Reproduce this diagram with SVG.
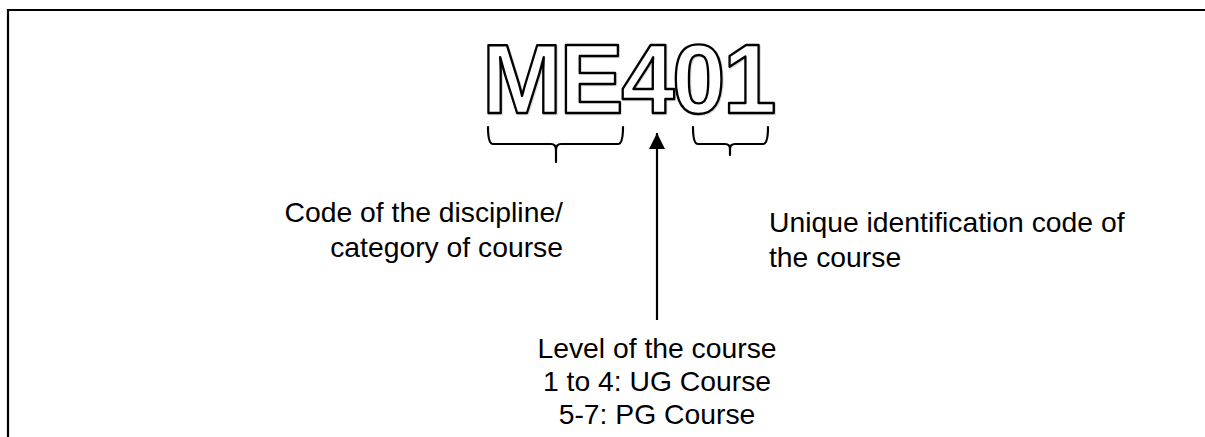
<svg xmlns="http://www.w3.org/2000/svg" width="1205" height="437" viewBox="0 0 1205 437">
<style>
.lbl{font-family:"Liberation Sans",Arial,sans-serif;font-size:28.3px;fill:#000}
.brace{fill:none;stroke:#000;stroke-width:2.2;stroke-linejoin:round;stroke-linecap:round}
.code{font-family:"Liberation Sans",Arial,sans-serif;font-weight:bold;font-size:98px;letter-spacing:-2.5px;fill:#fff;stroke:#000;stroke-width:2.4;stroke-linejoin:round}
.shadow{font-family:"Liberation Sans",Arial,sans-serif;font-weight:bold;font-size:98px;letter-spacing:-2.5px;fill:none;stroke:#999;stroke-width:2.5;opacity:0.35}
</style>
<defs>
<marker id="ah" markerWidth="16" markerHeight="16" refX="16" refY="8" orient="auto" markerUnits="userSpaceOnUse">
<path d="M0,0 L16,8 L0,16 Z" fill="#000"/>
</marker>
</defs>
<rect width="1205" height="437" fill="#fff"/>
<g id="frame">
<path d="M8,437 L8,10 L1205,10" fill="none" stroke="#000" stroke-width="2.2"/>
</g>
<g id="code" transform="translate(482,113) scale(0.98,1)">
<text class="shadow" x="1" y="1">ME401</text>
<text class="code" x="0" y="0">ME401</text>
</g>
<g id="connectors">
<path class="brace" d="M488,127 Q488,144 493,144 L551,144 Q556,144 556,150 L556,162 M556,150 Q556,144 561,144 L618,144 Q623,144 623,127"/>
<path class="brace" d="M693,127 Q693,144 698,144 L725,144 Q730,144 730,149 L730,155 M730,149 Q730,144 735,144 L763,144 Q768,144 768,127"/>
<line x1="657" y1="320" x2="657" y2="133" stroke="#000" stroke-width="2.2" marker-end="url(#ah)"/>
</g>
<g id="label-discipline">
<text class="lbl" x="563" y="222" text-anchor="end">Code of the discipline/</text>
<text class="lbl" x="563" y="257" text-anchor="end">category of course</text>
</g>
<g id="label-unique">
<text class="lbl" x="769" y="232">Unique identification code of</text>
<text class="lbl" x="769" y="267">the course</text>
</g>
<g id="label-level">
<text class="lbl" x="657" y="358" text-anchor="middle">Level of the course</text>
<text class="lbl" x="657" y="391" text-anchor="middle">1 to 4: UG Course</text>
<text class="lbl" x="657" y="424" text-anchor="middle">5-7: PG Course</text>
</g>
</svg>
